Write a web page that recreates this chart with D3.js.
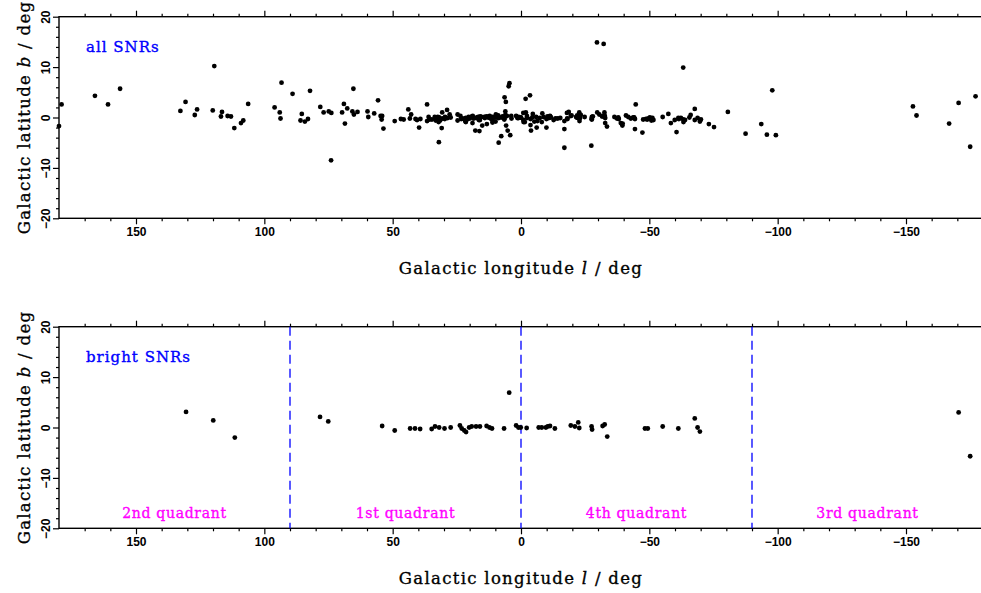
<!DOCTYPE html>
<html>
<head>
<meta charset="utf-8">
<script src="https://cdn.jsdelivr.net/npm/d3@7"></script>
<style>
  body { margin: 0; background: #fff; }
  .tick text { font-family: "Liberation Sans", Arial, sans-serif; font-weight: bold; font-size: 12px; fill: #000; }
  .tick line { stroke: #000; stroke-width: 1.2; }
  .lbl { font-family: "DejaVu Serif", serif; stroke-width: 0.35; }
</style>
</head>
<body>
<div id="chart"></div>
<script>
// galactic coordinates [l, b] in degrees (l > 180 written as l - 360)
const allSnrs = [
  [180.0,-1.7],[179.0,2.6],[166.0,4.3],[160.9,2.6],[156.2,5.7],
  [132.7,1.3],[130.7,3.1],[127.1,0.5],[126.2,1.6],[119.5,10.2],[120.1,1.4],
  [116.9,0.2],[116.5,1.1],[114.3,0.3],[113.0,0.2],[111.7,-2.1],[109.1,-1.1],[108.2,-0.6],[106.3,2.7],
  [96.0,2.0],[94.0,1.0],[93.3,6.9],[93.7,-0.2],[89.0,4.7],[85.9,-0.6],[85.4,0.7],[84.2,-0.8],[83.0,-0.3],[82.2,5.3],
  [78.2,2.1],[76.9,1.0],[74.9,1.2],[73.9,0.9],[74.0,-8.5],
  [69.7,1.0],[69.0,2.7],[68.6,-1.2],[67.7,1.8],[65.3,5.7],[65.7,1.2],[65.1,0.6],[63.7,1.1],
  [59.8,1.2],[59.5,0.1],[57.2,0.8],[55.7,3.4],[54.7,0.3],[54.1,0.3],[54.3,-0.4],[53.6,-2.2],
  [49.2,-0.7],[46.8,-0.3],[45.7,-0.4],[43.9,1.6],[42.8,0.6],[43.3,-0.2],[41.1,-0.3],[40.5,-0.5],[39.2,-0.3],[39.7,-2.0],
  [36.6,2.6],[36.6,-0.7],[36.0,0.1],[35.6,-0.4],[34.7,-0.4],[33.6,0.1],[33.2,-0.6],[32.8,-0.1],[32.4,0.1],[31.9,0.0],
  [31.5,-0.6],[32.0,-4.9],[32.1,-0.9],[30.9,-2.1],[30.7,1.0],[30.7,-0.2],[29.7,-0.3],[29.6,0.1],[28.8,1.5],[28.6,-0.1],
  [27.8,0.6],[27.4,0.0],[24.7,0.6],[24.7,-0.6],[23.6,0.3],[23.3,-0.3],[22.7,-0.2],[21.8,-0.6],[21.6,-0.8],[21.5,-0.9],
  [21.5,-0.1],[21.0,-0.4],[20.4,0.1],[20.0,-0.2],[19.1,0.2],[18.9,-1.1],[18.8,0.3],[18.6,-0.2],[18.1,-0.1],[17.8,-2.6],
  [17.4,-0.1],[17.0,0.0],[16.7,0.1],[16.4,-0.5],[16.2,-2.7],[16.0,-0.5],[15.9,0.2],[15.4,0.1],[15.1,-1.6],[14.3,0.1],
  [14.1,-0.1],[13.5,0.2],[13.3,-1.3],[12.8,0.0],[12.5,0.2],[12.2,0.3],[12.0,-0.1],[11.8,-0.2],[11.4,-0.1],[11.2,-0.3],
  [11.1,-1.0],[11.1,-0.7],[11.1,0.1],[10.5,0.0],[9.9,-0.8],[9.8,0.6],[9.7,0.0],[8.9,0.4],[8.7,-0.1],[8.7,-5.0],
  [8.3,0.0],[7.7,-3.7],[7.2,0.2],[7.0,-0.1],[6.5,-0.4],[6.4,4.0],[6.4,-0.1],[6.1,1.2],[6.1,0.5],[5.9,3.1],
  [5.5,0.3],[5.8,-1.6],[5.2,-2.6],[4.8,6.2],[4.5,6.8],[4.2,-3.5],[3.8,0.3],[3.7,-0.2],[1.9,0.3],[1.4,-0.1],
  [1.0,-0.1],[0.9,0.1],[0.3,0.0],[0.0,0.0],
  [-0.9,0.9],[-0.9,-0.5],[-1.0,-0.9],[-1.5,-0.9],[-1.9,1.0],[-1.8,3.7],[-2.3,0.3],[-2.3,-0.1],[-3.7,-1.5],[-3.7,-0.3],
  [-3.5,4.4],[-3.9,-2.6],[-4.4,0.0],[-4.6,0.7],[-5.2,-0.8],[-5.9,0.1],[-6.1,-2.0],[-6.4,-0.7],[-7.3,-0.1],[-8.1,-0.9],
  [-8.3,0.8],[-8.8,0.1],[-9.9,-0.3],[-9.9,-2.0],[-10.3,0.2],[-10.8,-0.1],[-11.3,0.3],[-11.5,0.1],[-11.6,0.0],[-12.7,-0.5],
  [-13.4,-0.2],[-14.3,-0.2],[-15.3,-0.1],[-16.9,-0.7],[-16.9,-2.3],[-16.9,-6.0],[-17.9,0.9],[-18.0,-0.2],[-18.1,-0.3],[-18.6,1.1],
  [-19.4,0.3],[-19.7,0.4],[-21.5,0.1],[-21.7,0.0],[-21.9,0.4],[-22.2,-0.1],[-22.7,1.0],[-22.8,0.1],[-22.8,-0.7],[-23.0,-0.1],
  [-23.3,0.5],[-24.8,0.1],[-27.5,-0.3],[-27.6,0.1],[-27.6,-0.4],[-28.0,0.2],[-27.4,-5.6],[-29.7,1.0],[-29.6,14.9],[-30.5,0.6],
  [-31.6,0.2],[-32.0,0.3],[-32.2,14.6],[-32.5,1.0],[-32.6,0.4],[-32.8,-0.1],[-32.8,-1.1],[-33.5,-1.8],[-36.4,0.1],[-37.4,-0.2],
  [-37.9,0.0],[-38.9,-1.1],[-38.1,-0.3],[-39.5,-1.6],[-39.6,-1.2],[-40.9,0.4],[-41.8,0.1],[-42.8,-0.2],[-43.7,0.0],[-44.1,0.0],
  [-44.4,-0.3],[-44.4,-2.3],[-44.7,2.6],[-47.3,-3.0],[-47.6,-0.4],[-48.7,-0.3],[-49.2,-0.4],[-49.6,-0.2],[-50.2,0.0],[-50.8,-0.6],
  [-51.2,-0.1],[-51.6,-0.5],[-55.2,0.1],[-57.4,0.7],[-58.4,-1.1],[-59.9,-0.5],[-60.6,-2.9],[-61.3,-0.1],[-61.5,-0.3],[-62.3,-0.1],
  [-63.2,-0.4],[-63.3,-0.9],[-63.2,9.9],[-63.9,-0.5],[-65.6,0.0],[-66.1,0.5],[-67.7,-0.5],[-67.7,1.7],[-68.8,-0.1],[-69.7,-0.8],
  [-70.1,-0.4],[-73.2,-1.3],[-75.2,-1.9],[-80.6,1.1],[-87.5,-3.2],[-93.6,-1.3],[-95.8,-3.4],[-97.9,5.4],[-99.3,-3.5],
  [-152.7,2.2],[-154.1,0.4],[-166.8,-1.2],[-170.5,2.9],[-175.0,-5.8],[-177.1,4.2]
];

const brightSnrs = [
  [130.5,3.1],[119.9,1.4],[111.5,-2.0],[78.3,2.1],[75.1,1.2],[54.1,0.3],[49.2,-0.6],[43.2,-0.2],[41.3,-0.2],[39.3,-0.3],
  [34.8,-0.3],[33.5,0.2],[31.9,0.0],[29.8,-0.2],[27.4,0.0],[23.8,0.4],[23.1,-0.2],[22.1,-0.6],[21.4,-0.9],[20.2,0.0],
  [19.2,0.2],[17.5,0.2],[16.0,0.2],[13.4,0.3],[12.3,0.0],[11.3,-0.2],[6.6,-0.2],[4.6,6.9],[1.9,0.4],[1.0,0.0],
  [0.1,0.0],[-2.2,-0.1],[-6.9,0.0],[-8.1,0.0],[-9.7,0.0],[-10.4,0.2],[-11.3,0.3],[-13.2,-0.2],[-19.4,0.4],[-21.0,0.2],
  [-22.3,1.0],[-22.7,-0.1],[-27.5,0.2],[-27.7,-0.4],[-31.8,0.3],[-32.6,0.6],[-33.6,-1.8],[-48.3,-0.2],[-49.4,-0.2],[-55.2,0.2],
  [-61.3,-0.2],[-67.7,1.8],[-68.8,0.0],[-69.7,-0.8],[-170.5,3.0],[-175.0,-5.7]
];

const lonTicks = [150, 100, 50, 0, -50, -100, -150];
const lonMinor = d3.range(-170, 180, 10).filter(v => v % 50 !== 0);
const latTicks = [-20, -10, 0, 10, 20];
const latMinor = d3.range(-18, 20, 2).filter(v => v % 10 !== 0);
const quadrantNames = ["2nd quadrant", "1st quadrant", "4th quadrant", "3rd quadrant"];
const quadrantCentres = [135, 45, -45, -135];
const quadrantEdges = [90, 0, -90];

const width = 981, height = 593;
const svg = d3.select("#chart").append("svg")
  .attr("width", width)
  .attr("height", height);

const x = d3.scaleLinear().domain([180, -180]).range([59, 983]);

function drawPanel(top, data, title, withQuadrants) {
  const h = 201.6;
  const y = d3.scaleLinear().domain([-20, 20]).range([top + h, top]);
  const g = svg.append("g");

  // ticks (outward), majors labelled on bottom and left only
  g.append("g").attr("transform", `translate(0,${top + h})`)
    .call(d3.axisBottom(x).tickValues(lonTicks).tickSize(6).tickSizeOuter(0))
    .call(a => a.select(".domain").remove());
  g.append("g").attr("transform", `translate(0,${top + h})`)
    .call(d3.axisBottom(x).tickValues(lonMinor).tickSize(3).tickFormat(""))
    .call(a => a.select(".domain").remove());
  g.append("g").attr("transform", `translate(0,${top})`)
    .call(d3.axisTop(x).tickValues(lonTicks).tickSize(6).tickFormat(""))
    .call(a => a.select(".domain").remove());
  g.append("g").attr("transform", `translate(0,${top})`)
    .call(d3.axisTop(x).tickValues(lonMinor).tickSize(3).tickFormat(""))
    .call(a => a.select(".domain").remove());

  g.append("g").attr("transform", `translate(${x(180)},0)`)
    .call(d3.axisLeft(y).tickValues(latTicks).tickSize(6).tickSizeOuter(0))
    .call(a => a.select(".domain").remove())
    .call(a => a.selectAll("text")
      .attr("x", null).attr("dy", null)
      .attr("text-anchor", "middle")
      .attr("transform", "translate(-9,0) rotate(-90)"));
  g.append("g").attr("transform", `translate(${x(180)},0)`)
    .call(d3.axisLeft(y).tickValues(latMinor).tickSize(3).tickFormat(""))
    .call(a => a.select(".domain").remove());

  // frame
  g.append("rect")
    .attr("x", x(180)).attr("y", top)
    .attr("width", x(-180) - x(180)).attr("height", h)
    .attr("fill", "none").attr("stroke", "#000").attr("stroke-width", 1.4);

  if (withQuadrants) {
    g.selectAll(".edge").data(quadrantEdges).join("line")
      .attr("x1", d => x(d)).attr("x2", d => x(d))
      .attr("y1", top).attr("y2", top + h)
      .attr("stroke", "#0000ff").attr("stroke-width", 1.3)
      .attr("stroke-dasharray", "9,5");
    g.selectAll(".quad").data(quadrantNames).join("text")
      .attr("class", "lbl")
      .attr("x", (d, i) => x(quadrantCentres[i]))
      .attr("y", top + h - 10)
      .attr("text-anchor", "middle")
      .attr("font-size", 14)
      .attr("letter-spacing", 0.7)
      .attr("fill", "#ff00ff").attr("stroke", "#ff00ff")
      .text(d => d);
  }

  g.selectAll("circle").data(data).join("circle")
    .attr("cx", d => x(d[0]))
    .attr("cy", d => y(d[1]))
    .attr("r", 2.4)
    .attr("fill", "#000");

  g.append("text").attr("class", "lbl")
    .attr("x", 86).attr("y", top + 35.6)
    .attr("font-size", 15).attr("letter-spacing", 1)
    .attr("fill", "#0000ff").attr("stroke", "#0000ff")
    .text(title);

  // axis titles
  const xt = g.append("text").attr("class", "lbl")
    .attr("x", x(0)).attr("y", top + h + 56)
    .attr("text-anchor", "middle").attr("font-size", 16.5)
    .attr("letter-spacing", 1.3).attr("stroke", "#000");
  xt.append("tspan").text("Galactic longitude ");
  xt.append("tspan").attr("font-style", "italic").text("l");
  xt.append("tspan").text(" / deg");

  const yt = g.append("text").attr("class", "lbl")
    .attr("transform", `translate(30,${y(0)}) rotate(-90)`)
    .attr("text-anchor", "middle").attr("font-size", 16.5)
    .attr("letter-spacing", 1.3).attr("stroke", "#000");
  yt.append("tspan").text("Galactic latitude ");
  yt.append("tspan").attr("font-style", "italic").text("b");
  yt.append("tspan").text(" / deg");
}

drawPanel(16.7, allSnrs, "all SNRs", false);
drawPanel(326.7, brightSnrs, "bright SNRs", true);
</script>
</body>
</html>
